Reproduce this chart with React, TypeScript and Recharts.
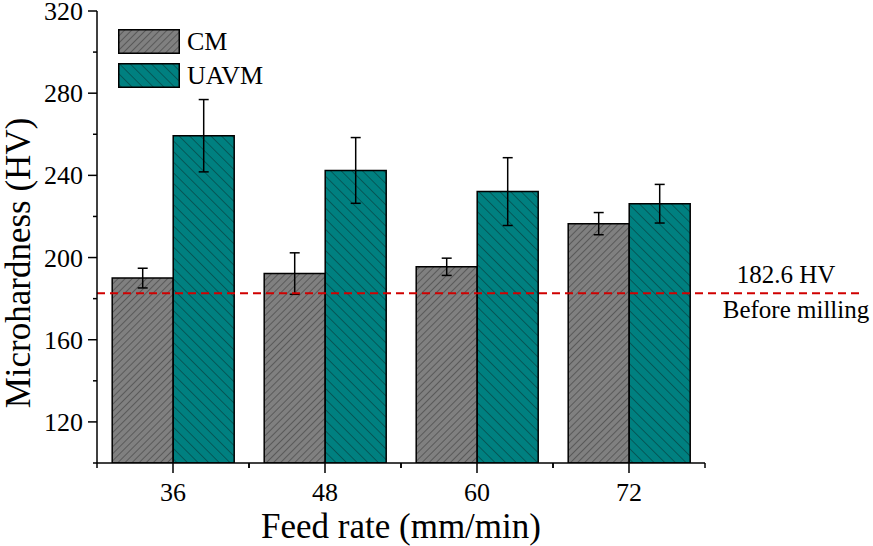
import React from 'react';
import { BarChart, Bar, XAxis, YAxis, ErrorBar, ReferenceLine, Legend } from 'recharts';

const feedRates = ['36', '48', '60', '72'];
const cmValues = [190.0, 192.2, 195.5, 216.5];
const cmErrors = [4.8, 10.1, 4.2, 5.4];
const uavmValues = [259.3, 242.4, 232.1, 226.2];
const uavmErrors = [17.6, 16.0, 16.5, 9.4];
const yTicks = [100, 120, 140, 160, 180, 200, 220, 240, 260, 280, 300, 320];
const yLabeledTicks = [120, 160, 200, 240, 280, 320];
const seriesNames = ['CM', 'UAVM'];
const beforeMillingValue = 182.6;
const refTopText = '182.6 HV';
const refBottomText = 'Before milling';
const xTitle = 'Feed rate (mm/min)';
const yTitle = 'Microhardness (HV)';

const data = feedRates.map((f, i) => ({
  feed: f,
  cm: cmValues[i],
  cmErr: cmErrors[i],
  uavm: uavmValues[i],
  uavmErr: uavmErrors[i],
}));

const FONT = '"Liberation Serif", "Times New Roman", serif';
const patternIds: Record<string, string> = { CM: 'hatchCM', UAVM: 'hatchUAVM' };

const YTick = (props: any) => {
  const { x, y, payload } = props;
  const major = yLabeledTicks.includes(payload.value);
  return (
    <g>
      <line x1={x - (major ? 9 : 4)} x2={x} y1={y} y2={y} stroke="#000" strokeWidth={1.5} />
      {major && (
        <text x={x - 14} y={y + 9} textAnchor="end" fontFamily={FONT} fontSize={26} fill="#000">
          {payload.value}
        </text>
      )}
    </g>
  );
};

const XTick = (props: any) => {
  const { x, y, payload } = props;
  const off = payload && typeof payload.offset === 'number' && payload.offset > 0 ? payload.offset : 76;
  return (
    <g>
      <line x1={x - off} x2={x - off} y1={y} y2={y + 5} stroke="#000" strokeWidth={1.5} />
      <line x1={x + off} x2={x + off} y1={y} y2={y + 5} stroke="#000" strokeWidth={1.5} />
      <line x1={x} x2={x} y1={y} y2={y + 10} stroke="#000" strokeWidth={1.5} />
      <text x={x} y={y + 38} textAnchor="middle" fontFamily={FONT} fontSize={26} fill="#000">
        {payload.value}
      </text>
    </g>
  );
};

const RefShape = (props: any) => {
  const { x1, y1, x2 } = props;
  return (
    <g>
      <line x1={x1} y1={y1} x2={x2 + 158} y2={y1} stroke="#d00000" strokeWidth={2} strokeDasharray="8 5" />
      <text x={x2 + 81} y={y1 - 10} textAnchor="middle" fontFamily={FONT} fontSize={25} fill="#000">
        {refTopText}
      </text>
      <text x={x2 + 91} y={y1 + 25} textAnchor="middle" fontFamily={FONT} fontSize={25} fill="#000">
        {refBottomText}
      </text>
    </g>
  );
};

const LegendContent = (props: any) => {
  const payload = props.payload && props.payload.length ? props.payload : seriesNames.map((n) => ({ value: n }));
  return (
    <div style={{ display: 'flex', flexDirection: 'column', gap: 9 }}>
      {payload.map((p: any) => (
        <div key={p.value} style={{ display: 'flex', alignItems: 'center', height: 25 }}>
          <svg width={62} height={25} style={{ display: 'block' }}>
            <rect x={0.75} y={0.75} width={60.5} height={23.5} fill={`url(#${patternIds[p.value]})`} stroke="#000" strokeWidth={1.5} />
          </svg>
          <span style={{ fontFamily: FONT, fontSize: 26, marginLeft: 7, color: '#000', lineHeight: '25px' }}>{p.value}</span>
        </div>
      ))}
    </div>
  );
};

const YLabel = (props: any) => {
  const vb = props.viewBox || { x: 0, y: 11, width: 97, height: 452 };
  const cx = vb.x + 30;
  const cy = vb.y + vb.height / 2 + 26;
  return (
    <text x={cx} y={cy} transform={`rotate(-90 ${cx} ${cy})`} textAnchor="middle" fontFamily={FONT} fontSize={35} fill="#000">
      {yTitle}
    </text>
  );
};

const XLabel = (props: any) => {
  const vb = props.viewBox || { x: 97, y: 463, width: 608, height: 83 };
  return (
    <text x={vb.x + vb.width / 2} y={vb.y + 75} textAnchor="middle" fontFamily={FONT} fontSize={35} fill="#000">
      {xTitle}
    </text>
  );
};

export default function App() {
  return (
    <div style={{ position: 'absolute', left: 0, top: 0, width: 873, height: 546, background: '#fff' }}>
      <BarChart
        width={873}
        height={546}
        data={data}
        margin={{ top: 11, right: 168, left: 0, bottom: 0 }}
        barCategoryGap="10%"
        barGap={0}
      >
        <defs>
          <pattern id="hatchCM" width={5} height={5} patternUnits="userSpaceOnUse" patternTransform="rotate(45)">
            <rect x={0} y={0} width={5} height={5} fill="#808080" />
            <line x1={0} y1={0} x2={0} y2={5} stroke="#2a2a2a" strokeWidth={0.9} />
          </pattern>
          <pattern id="hatchUAVM" width={7.5} height={7.5} patternUnits="userSpaceOnUse" patternTransform="rotate(-45)">
            <rect x={0} y={0} width={7.5} height={7.5} fill="#008080" />
            <line x1={0} y1={0} x2={0} y2={7.5} stroke="#0a2626" strokeWidth={0.9} />
          </pattern>
        </defs>
        <XAxis
          dataKey="feed"
          height={83}
          axisLine={{ stroke: '#000', strokeWidth: 1.5 }}
          tickLine={false}
          tickSize={0}
          tickMargin={0}
          tick={<XTick />}
          interval={0}
          label={<XLabel />}
        />
        <XAxis dataKey="feed" xAxisId="top" orientation="top" height={0} tick={false} tickLine={false} axisLine={{ stroke: '#000', strokeWidth: 1.5 }} />
        <YAxis
          width={97}
          type="number"
          domain={[100, 320]}
          ticks={yTicks}
          interval={0}
          allowDataOverflow
          axisLine={{ stroke: '#000', strokeWidth: 1.5 }}
          tickLine={false}
          tickSize={0}
          tickMargin={0}
          tick={<YTick />}
          label={<YLabel />}
        />
        <YAxis yAxisId="right" orientation="right" width={0} type="number" domain={[100, 320]} tick={false} tickLine={false} axisLine={{ stroke: '#000', strokeWidth: 1.5 }} />
        <Legend
          layout="vertical"
          verticalAlign="middle"
          align="center"
          wrapperStyle={{ left: 118, top: 29, width: 200 }}
          content={<LegendContent />}
        />
        <Bar dataKey="cm" name={seriesNames[0]} fill="url(#hatchCM)" stroke="#000" strokeWidth={1.5} isAnimationActive={false}>
          <ErrorBar dataKey="cmErr" width={5} stroke="#000" strokeWidth={1.5} />
        </Bar>
        <Bar dataKey="uavm" name={seriesNames[1]} fill="url(#hatchUAVM)" stroke="#000" strokeWidth={1.5} isAnimationActive={false}>
          <ErrorBar dataKey="uavmErr" width={5} stroke="#000" strokeWidth={1.5} />
        </Bar>
        <ReferenceLine y={beforeMillingValue} ifOverflow="visible" shape={<RefShape />} />
      </BarChart>
    </div>
  );
}
